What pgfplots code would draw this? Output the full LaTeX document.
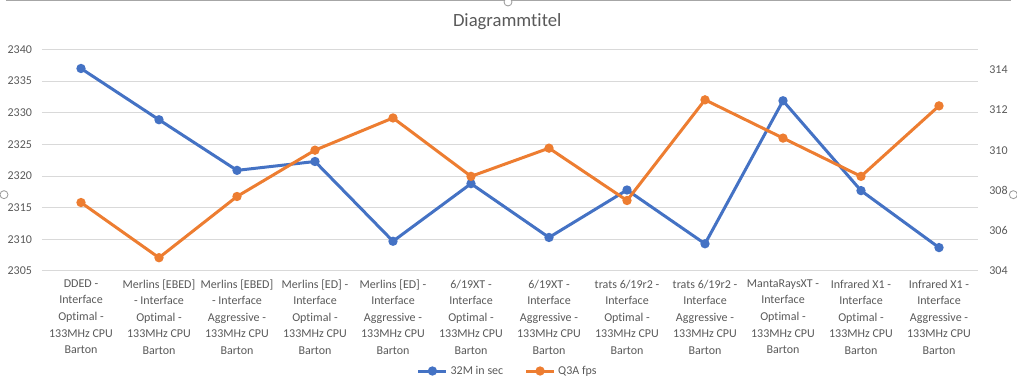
\documentclass[border=0pt]{standalone}
\usepackage{pgfplots}
\pgfplotsset{compat=1.18}
\usepackage{fontspec}
\setmainfont{Carlito}[RawFeature={-liga;-clig;-calt;-dlig}]
\definecolor{cblue}{HTML}{4472C4}
\definecolor{corange}{HTML}{ED7D31}
\definecolor{cgrid}{HTML}{D9D9D9}
\definecolor{ctext}{HTML}{595959}
\begin{document}
\begin{tikzpicture}
\pgfplotsset{
  base/.style={
    scale only axis, width=702pt, height=166.125pt,
    xmin=-0.5, xmax=11.5,
    axis line style={draw=none},
    major tick length=0pt,
    tick label style={font=\fontsize{9}{12.4}\selectfont, text=ctext},
    /pgf/number format/assume math mode=true,
    /pgf/number format/1000 sep={},
    clip=false,
  }
}
\begin{axis}[base, name=main,
  ymin=2305, ymax=2340, ytick={2305,2310,...,2340},
  ymajorgrids, grid style={cgrid, line width=0.75pt},
  xtick={0,...,11},
  xticklabel style={align=center, yshift=-3pt},
  yticklabel style={xshift=-4pt},
  xticklabels={
    {DDED -\\Interface\\Optimal -\\133MHz CPU\\Barton},
    {Merlins [EBED]\\- Interface\\Optimal -\\133MHz CPU\\Barton},
    {Merlins [EBED]\\- Interface\\Aggressive -\\133MHz CPU\\Barton},
    {Merlins [ED] -\\Interface\\Optimal -\\133MHz CPU\\Barton},
    {Merlins [ED] -\\Interface\\Aggressive -\\133MHz CPU\\Barton},
    {6/19XT -\\Interface\\Optimal -\\133MHz CPU\\Barton},
    {6/19XT -\\Interface\\Aggressive -\\133MHz CPU\\Barton},
    {trats 6/19r2 -\\Interface\\Optimal -\\133MHz CPU\\Barton},
    {trats 6/19r2 -\\Interface\\Aggressive -\\133MHz CPU\\Barton},
    {MantaRaysXT -\\Interface\\Optimal -\\133MHz CPU\\Barton},
    {Infrared X1 -\\Interface\\Optimal -\\133MHz CPU\\Barton},
    {Infrared X1 -\\Interface\\Aggressive -\\133MHz CPU\\Barton}},
]
\addplot[cblue, line width=2.25pt, mark=*, mark size=2.3pt, mark options={solid, fill=cblue}]
  coordinates {(0,2337.0) (1,2328.9) (2,2320.9) (3,2322.3) (4,2309.7) (5,2318.8)
               (6,2310.3) (7,2317.8) (8,2309.3) (9,2331.9) (10,2317.7) (11,2308.7)};
\node[anchor=base, font=\fontsize{14}{16}\selectfont, text=ctext] at (rel axis cs:0.497,1.1016) {Diagrammtitel};
\end{axis}
\begin{axis}[base,
  axis y line*=right, axis x line=none,
  ymin=304, ymax=315, ytick={304,306,...,314},
  yticklabel style={xshift=5pt},
  legend columns=2,
  legend style={draw=none, fill=none, at={(0.498,-0.4515)}, anchor=center,
    font=\fontsize{9}{11}\selectfont, text=ctext,
    /tikz/every even column/.append style={column sep=14pt}},
  legend image code/.code={
    \draw[#1] (0pt,0pt) -- (21pt,0pt);
    \draw[#1, only marks] plot coordinates {(10.5pt,0pt)};
  },
]
\addlegendimage{cblue, line width=2.25pt, mark=*, mark size=2.3pt, mark options={solid, fill=cblue}}
\addlegendentry{32M in sec}
\addplot[corange, line width=2.25pt, mark=*, mark size=2.3pt, mark options={solid, fill=corange}]
  coordinates {(0,307.4) (1,304.66) (2,307.7) (3,310.0) (4,311.6) (5,308.7)
               (6,310.1) (7,307.5) (8,312.5) (9,310.6) (10,308.7) (11,312.2)};
\addlegendentry{Q3A fps}
\end{axis}
\pgfresetboundingbox
\path[use as bounding box] ([xshift=-31.5pt,yshift=-87pt]main.south west) rectangle ([xshift=29.25pt,yshift=37.125pt]main.north east);
\coordinate (TL) at ([xshift=-31.5pt,yshift=37.125pt]main.north west);
\draw[color=black!35, line width=0.75pt] ([xshift=4.5pt,yshift=-0.75pt]TL) -- ++(753.75pt,0);
\draw[color=black!40, line width=0.6pt, fill=white] ([xshift=381pt,yshift=-1.5pt]TL) circle (3pt);
\draw[color=black!40, line width=0.6pt, fill=white] ([xshift=3pt,yshift=-146pt]TL) circle (3pt);
\draw[color=black!40, line width=0.6pt, fill=white] ([xshift=760pt,yshift=-146pt]TL) circle (3pt);
\end{tikzpicture}
\end{document}
